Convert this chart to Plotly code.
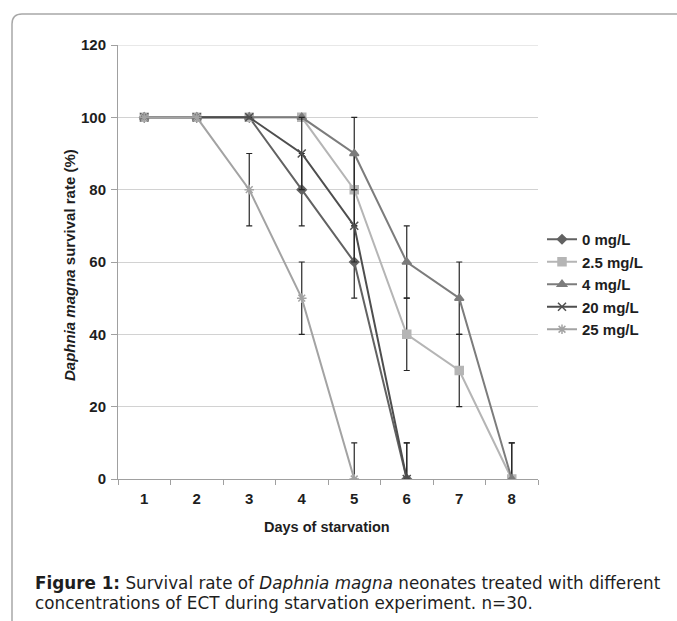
import plotly.graph_objects as go

# Survival of Daphnia magna neonates (%) by day of starvation
days = ["1", "2", "3", "4", "5", "6", "7", "8"]
series_names = ["0 mg/L", "2.5 mg/L", "4 mg/L", "20 mg/L", "25 mg/L"]

surv_0 = [100, 100, 100, 80, 60, 0]
surv_2_5 = [100, 100, 100, 100, 80, 40, 30, 0]
surv_4 = [100, 100, 100, 100, 90, 60, 50, 0]
surv_20 = [100, 100, 100, 90, 70, 0]
surv_25 = [100, 100, 80, 50, 0]

# Error bars (upper / lower)
err_up_0 = [0, 0, 0, 10, 10, 10]
err_dn_0 = [0, 0, 0, 10, 10, 0]
err_up_2_5 = [0, 0, 0, 0, 10, 10, 10, 10]
err_dn_2_5 = [0, 0, 0, 0, 10, 10, 10, 0]
err_up_4 = [0, 0, 0, 0, 10, 10, 10, 10]
err_dn_4 = [0, 0, 0, 0, 10, 10, 10, 0]
err_up_20 = [0, 0, 0, 10, 10, 10]
err_dn_20 = [0, 0, 0, 10, 10, 0]
err_up_25 = [0, 0, 10, 10, 10]
err_dn_25 = [0, 0, 10, 10, 0]

y_ticks = [0, 20, 40, 60, 80, 100, 120]
y_max = 120

W, H = 677, 621
FONT = "Liberation Sans, Arial, sans-serif"
CAP_FONT = "DejaVu Sans, sans-serif"
TXT = "#1e1e1e"
AXIS_GREY = "#a0a0a0"


def px_x(v):
    return v / W


def px_y(v):
    return 1 - v / H


styles = [
    dict(color="#626262", symbol="diamond", size=7),
    dict(color="#b5b5b5", symbol="square", size=8),
    dict(color="#7c7c7c", symbol="triangle-up", size=8),
    dict(color="#4e4e4e", symbol="x-thin-open", size=8),
    dict(color="#a3a3a3", symbol="asterisk-open", size=8),
]

values = [surv_0, surv_2_5, surv_4, surv_20, surv_25]
ups = [err_up_0, err_up_2_5, err_up_4, err_up_20, err_up_25]
dns = [err_dn_0, err_dn_2_5, err_dn_4, err_dn_20, err_dn_25]

fig = go.Figure()
for name, vals, up, dn, st in zip(series_names, values, ups, dns, styles):
    fig.add_trace(go.Scatter(
        x=days[:len(vals)], y=vals, name=name,
        mode="lines+markers",
        line=dict(color=st["color"], width=2),
        marker=dict(color=st["color"], symbol=st["symbol"], size=st["size"],
                    line=dict(color=st["color"], width=1.5)),
        error_y=dict(type="data", symmetric=False, array=up, arrayminus=dn,
                     color="#262626", thickness=1.2, width=3),
    ))

fig.update_layout(
    width=W, height=H,
    margin=dict(l=0, r=0, t=0, b=0),
    paper_bgcolor="white", plot_bgcolor="white",
    font=dict(family=FONT, color=TXT),
    showlegend=True,
    legend=dict(x=px_x(542), y=px_y(223), xanchor="left", yanchor="top",
                font=dict(size=15, family=FONT, color=TXT, weight="bold"),
                bgcolor="rgba(0,0,0,0)", itemwidth=30, tracegroupgap=0),
    xaxis=dict(
        domain=[px_x(118), px_x(538)],
        type="category", categoryorder="array", categoryarray=days,
        range=[-0.5, 7.5],
        tickson="boundaries", ticks="outside", ticklen=5, tickcolor=AXIS_GREY,
        showline=True, linecolor=AXIS_GREY, linewidth=1,
        showgrid=False, zeroline=False, ticklabelstandoff=6,
        tickfont=dict(size=15, family=FONT, color=TXT, weight="bold"),
        automargin=False,
    ),
    yaxis=dict(
        domain=[px_y(479), px_y(45)],
        range=[0, y_max], tickvals=y_ticks,
        ticks="outside", ticklen=6, tickcolor=AXIS_GREY,
        showline=True, linecolor=AXIS_GREY, linewidth=1,
        showgrid=True, gridcolor="#d2d2d2", gridwidth=1,
        zeroline=False, ticklabelstandoff=2,
        tickfont=dict(size=15, family=FONT, color=TXT, weight="bold"),
        automargin=False,
    ),
)

# Top gridline at the end of the value axis
fig.add_shape(type="line", xref="paper", yref="y",
              x0=px_x(118), x1=px_x(538), y0=y_max, y1=y_max,
              line=dict(color="#d2d2d2", width=1))

# Axis titles
fig.add_annotation(
    xref="paper", yref="paper", x=px_x(327), y=px_y(527),
    xanchor="center", yanchor="middle", showarrow=False,
    text="<b>Days of starvation</b>",
    font=dict(size=14.5, family=FONT, color=TXT),
)
fig.add_annotation(
    xref="paper", yref="paper", x=px_x(69), y=px_y(265),
    xanchor="center", yanchor="middle", showarrow=False, textangle=-90,
    text="<b><i>Daphnia magna</i> survival rate (%)</b>",
    font=dict(size=15, family=FONT, color=TXT),
)

# Rounded frame around the figure panel
x0, y0, r = px_x(12), px_y(14), 10
fig.add_shape(
    type="path", xref="paper", yref="paper",
    path=(f"M {x0} 0 L {x0} {px_y(14 + r)} "
          f"Q {x0} {y0} {px_x(12 + r)} {y0} L 1 {y0}"),
    line=dict(color="#a8a8a8", width=1.5),
)

# Caption, one annotation per line
caption_lines = [
    "<b>Figure 1:</b> Survival rate of <i>Daphnia magna</i> neonates treated with different",
    "concentrations of ECT during starvation experiment. n=30.",
]
for i, line in enumerate(caption_lines):
    fig.add_annotation(
        xref="paper", yref="paper", x=px_x(33), y=px_y(583 + 20 * i),
        xanchor="left", yanchor="middle", align="left", showarrow=False,
        text=line, font=dict(size=16.8, family=CAP_FONT, color=TXT),
    )

fig.write_html("out.html")
